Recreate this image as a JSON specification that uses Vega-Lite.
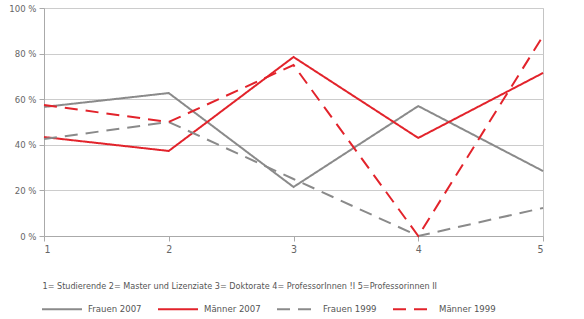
{
  "$schema": "https://vega.github.io/schema/vega-lite/v6.json",
  "width": 499,
  "height": 228,
  "autosize": {"type": "none"},
  "padding": {"left": 44, "top": 8, "right": 41, "bottom": 83},
  "background": "white",
  "config": {
    "font": "DejaVu Sans Condensed, Liberation Sans, sans-serif",
    "view": {"stroke": "#c4c4c4", "strokeWidth": 1},
    "axis": {"labelColor": "#666666", "titleColor": "#555555", "labelFont": "DejaVu Sans Condensed, Liberation Sans, sans-serif", "titleFont": "DejaVu Sans Condensed, Liberation Sans, sans-serif"},
    "legend": {"labelFont": "DejaVu Sans Condensed, Liberation Sans, sans-serif"}
  },
  "data": {
    "values": [
      {"pos": 1, "series": "Frauen 2007", "value": 56.6},
      {"pos": 2, "series": "Frauen 2007", "value": 62.7},
      {"pos": 3, "series": "Frauen 2007", "value": 21.5},
      {"pos": 4, "series": "Frauen 2007", "value": 57.0},
      {"pos": 5, "series": "Frauen 2007", "value": 28.5},
      {"pos": 1, "series": "Männer 2007", "value": 43.4},
      {"pos": 2, "series": "Männer 2007", "value": 37.3},
      {"pos": 3, "series": "Männer 2007", "value": 78.5},
      {"pos": 4, "series": "Männer 2007", "value": 43.0},
      {"pos": 5, "series": "Männer 2007", "value": 71.5},
      {"pos": 1, "series": "Frauen 1999", "value": 42.5},
      {"pos": 2, "series": "Frauen 1999", "value": 50.0},
      {"pos": 3, "series": "Frauen 1999", "value": 25.0},
      {"pos": 4, "series": "Frauen 1999", "value": 0.0},
      {"pos": 5, "series": "Frauen 1999", "value": 12.3},
      {"pos": 1, "series": "Männer 1999", "value": 57.5},
      {"pos": 2, "series": "Männer 1999", "value": 50.0},
      {"pos": 3, "series": "Männer 1999", "value": 75.0},
      {"pos": 4, "series": "Männer 1999", "value": 0.0},
      {"pos": 5, "series": "Männer 1999", "value": 87.7}
    ]
  },
  "mark": {"type": "line", "strokeWidth": 2, "clip": false},
  "encoding": {
    "x": {
      "field": "pos", "type": "quantitative",
      "scale": {"domain": [1, 5], "nice": false, "zero": false},
      "axis": {
        "values": [1, 2, 3, 4, 5], "format": "d", "grid": false,
        "domainColor": "#aaaaaa", "tickColor": "#aaaaaa", "tickSize": 5,
        "labelFontSize": 10.5, "labelPadding": 3,
        "title": "1= Studierende  2= Master und Lizenziate  3= Doktorate  4= ProfessorInnen !I  5=Professorinnen II",
        "titleFontSize": 9, "titleFontWeight": "normal",
        "titleAnchor": "start", "titleAlign": "left", "titleBaseline": "alphabetic",
        "titleX": -2, "titleY": 52
      }
    },
    "y": {
      "field": "value", "type": "quantitative",
      "scale": {"domain": [0, 100], "nice": false},
      "axis": {
        "values": [0, 20, 40, 60, 80, 100],
        "labelExpr": "datum.value + ' %'",
        "title": null,
        "grid": true, "gridColor": "#cccccc",
        "domainColor": "#aaaaaa", "tickColor": "#aaaaaa", "tickSize": 5,
        "labelFontSize": 9.5, "labelPadding": 3
      }
    },
    "color": {
      "field": "series", "type": "nominal",
      "scale": {
        "domain": ["Frauen 2007", "Männer 2007", "Frauen 1999", "Männer 1999"],
        "range": ["#8a8a8a", "#e2232b", "#8a8a8a", "#e2232b"]
      },
      "legend": {
        "title": null, "orient": "none", "legendX": -3, "legendY": 280,
        "direction": "horizontal", "columns": 4,
        "symbolType": "stroke", "symbolSize": 1600, "symbolStrokeWidth": 2,
        "labelFontSize": 9.5, "labelColor": "#555555", "labelOffset": 5,
        "columnPadding": 12
      }
    },
    "strokeDash": {
      "field": "series", "type": "nominal",
      "scale": {
        "domain": ["Frauen 2007", "Männer 2007", "Frauen 1999", "Männer 1999"],
        "range": [[1, 0], [1, 0], [13, 8], [13, 8]]
      },
      "legend": null
    },
    "detail": {"field": "series"}
  }
}
